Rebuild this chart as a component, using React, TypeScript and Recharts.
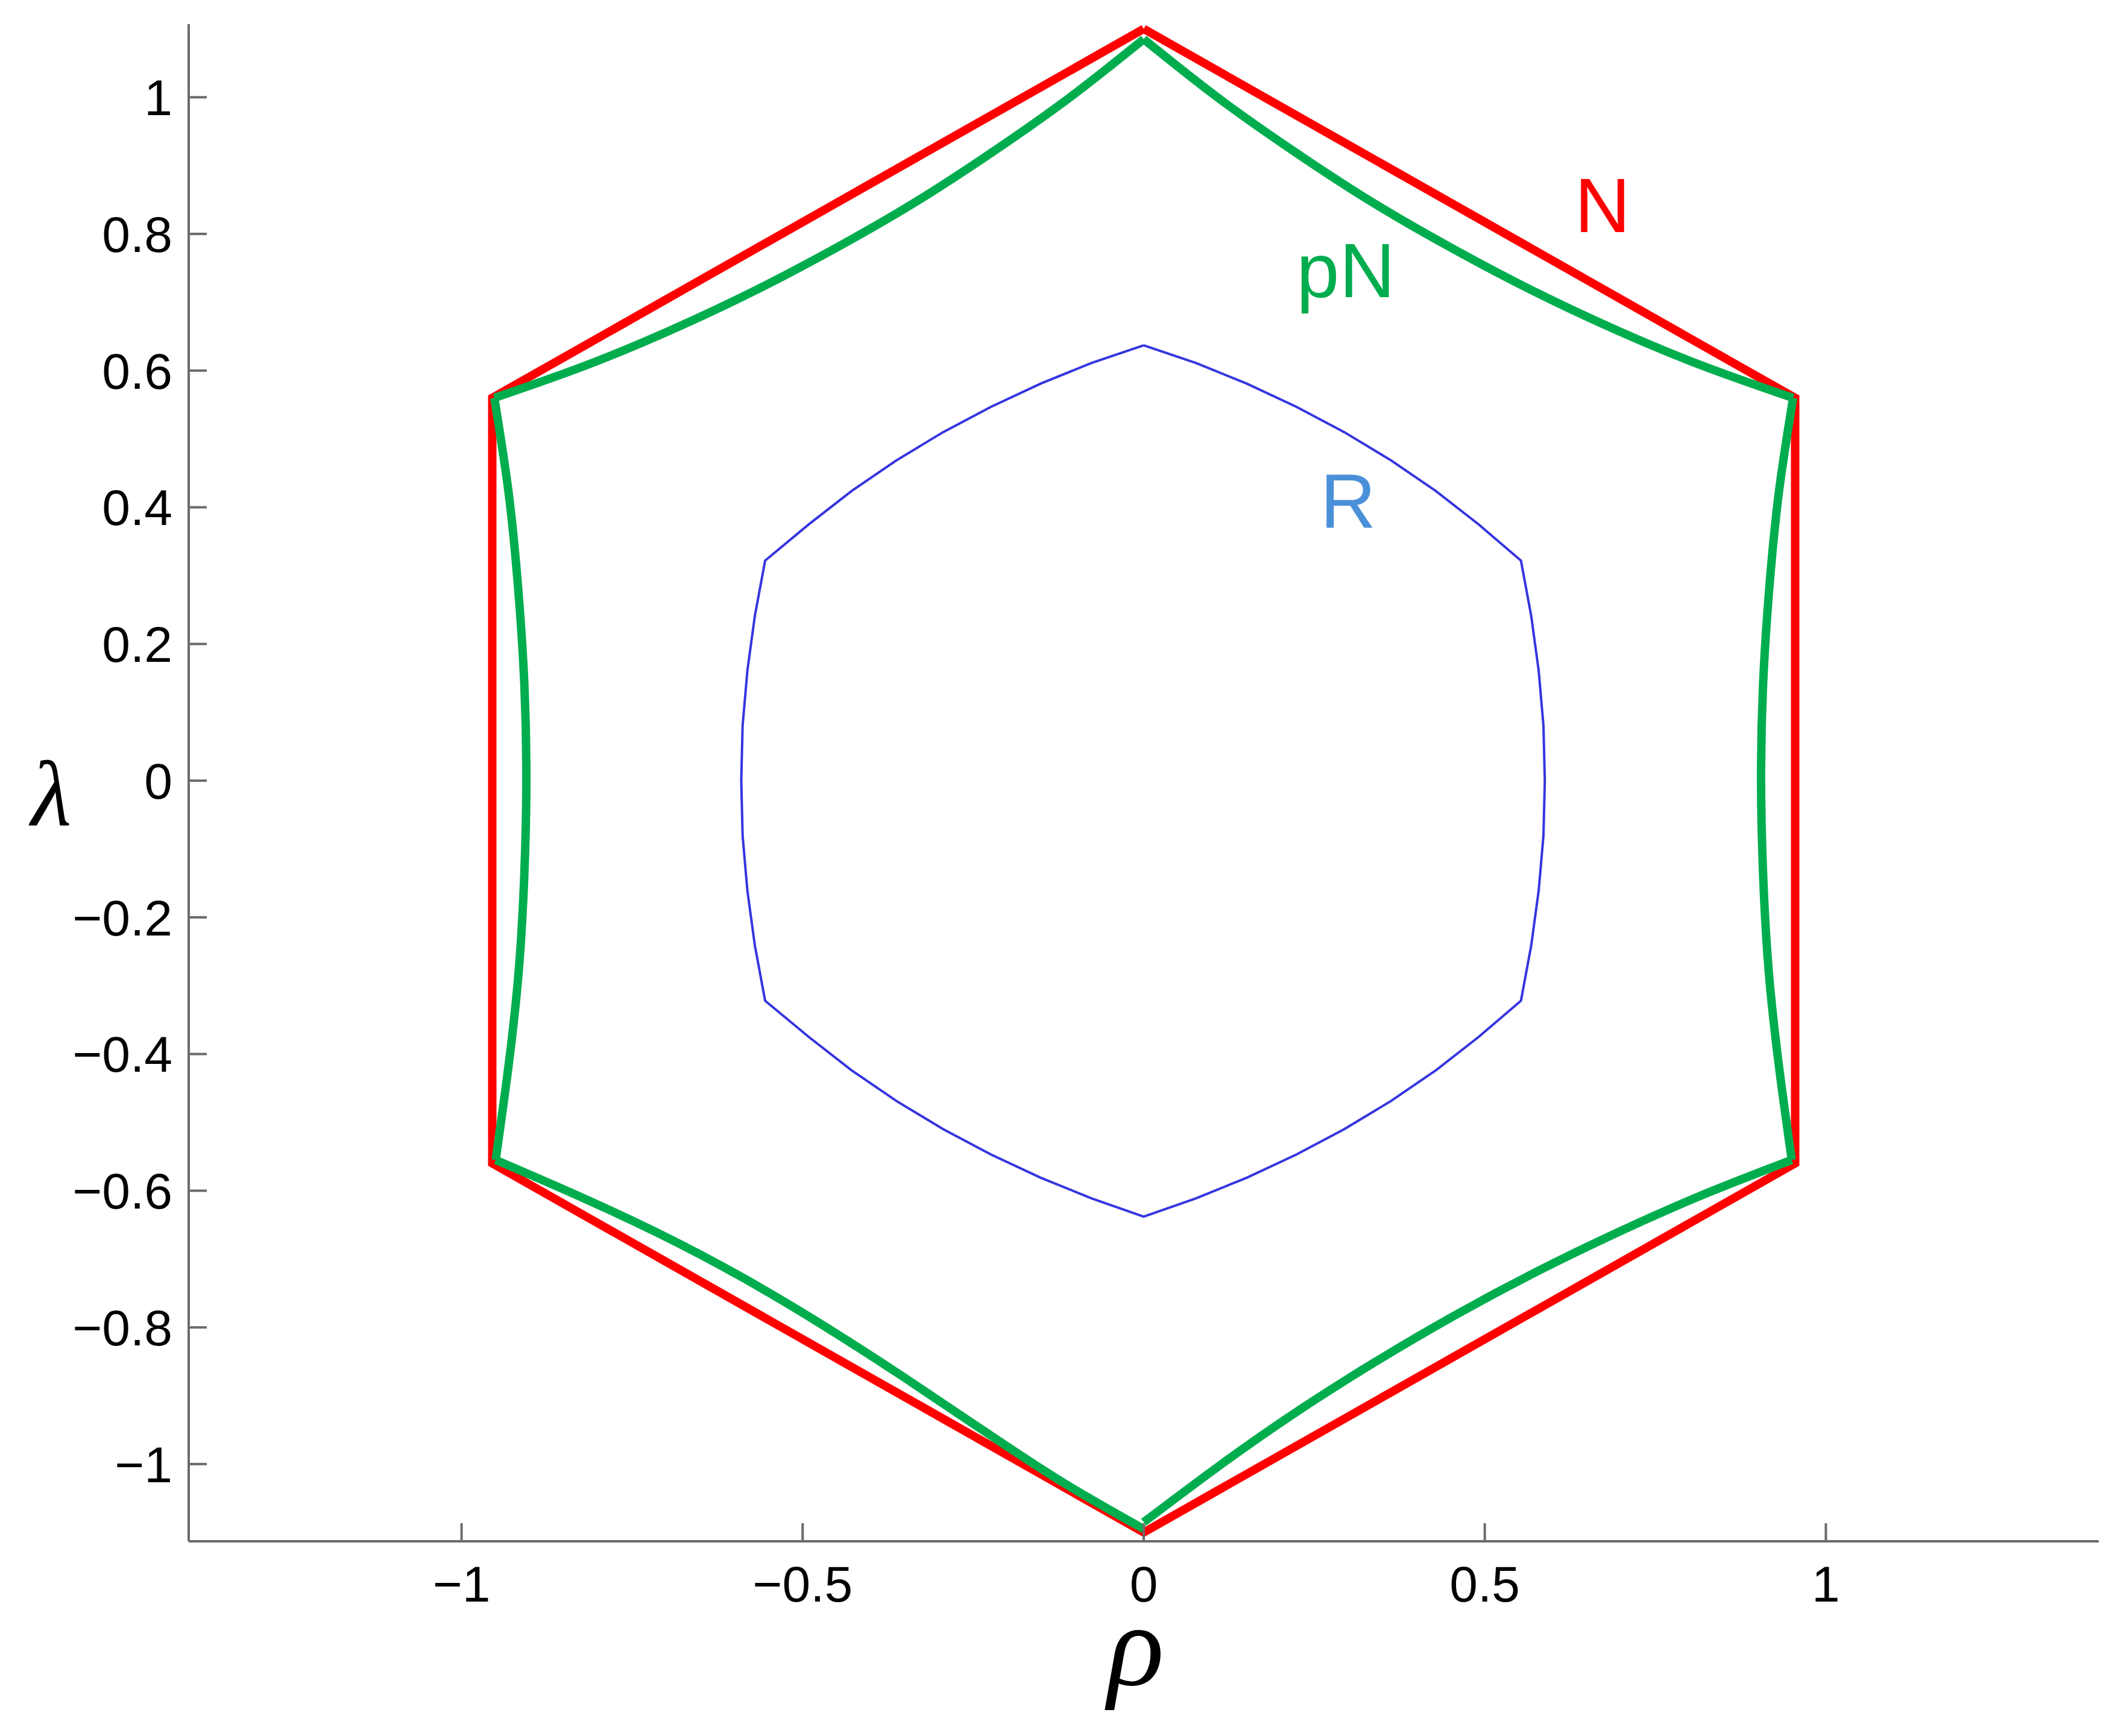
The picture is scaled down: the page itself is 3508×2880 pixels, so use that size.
import React from 'react';
import { LineChart, Line, XAxis, YAxis } from 'recharts';

// N: straight hexagon (red)
const nPoints: [number, number][] = [
  [0, 1.1], [0.955, 0.56], [0.955, -0.56], [0, -1.1], [-0.955, -0.56], [-0.955, 0.56], [0, 1.1],
];

// pN: concave hexagon (green), one array per edge
const pnUpperRight: [number, number][] = [
  [0, 1.085], [0.108, 1.0], [0.22, 0.921], [0.334, 0.847], [0.452, 0.779],
  [0.572, 0.716], [0.696, 0.658], [0.822, 0.606], [0.952, 0.56],
];
const pnRight: [number, number][] = [
  [0.952, 0.56], [0.931, 0.421], [0.917, 0.281], [0.908, 0.142], [0.905, 0.0],
  [0.908, -0.137], [0.916, -0.276], [0.931, -0.416], [0.95, -0.555],
];
const pnLowerRight: [number, number][] = [
  [0.95, -0.555], [0.822, -0.605], [0.697, -0.66], [0.575, -0.719], [0.455, -0.783],
  [0.337, -0.852], [0.222, -0.925], [0.11, -1.003], [0, -1.085],
];
const pnLowerLeft: [number, number][] = [
  [0, -1.095], [-0.115, -1.029], [-0.232, -0.953], [-0.35, -0.874], [-0.47, -0.797],
  [-0.59, -0.726], [-0.71, -0.663], [-0.83, -0.607], [-0.95, -0.555],
];
const pnLeft: [number, number][] = [
  [-0.95, -0.555], [-0.931, -0.416], [-0.916, -0.276], [-0.908, -0.137], [-0.905, 0.0],
  [-0.908, 0.142], [-0.917, 0.281], [-0.931, 0.421], [-0.952, 0.56],
];
const pnUpperLeft: [number, number][] = [
  [-0.952, 0.56], [-0.822, 0.606], [-0.696, 0.658], [-0.572, 0.716], [-0.452, 0.779],
  [-0.334, 0.847], [-0.22, 0.921], [-0.108, 1.0], [0, 1.085],
];

// R: convex inner hexagon (blue)
const rPoints: [number, number][] = [
  [0, 0.637], [0.077, 0.611], [0.151, 0.581], [0.224, 0.547], [0.294, 0.51],
  [0.362, 0.469], [0.428, 0.424], [0.491, 0.375], [0.553, 0.322],
  [0.568, 0.2415], [0.579, 0.161], [0.586, 0.0805], [0.588, 0], [0.586, -0.0805],
  [0.579, -0.161], [0.568, -0.2415], [0.553, -0.322],
  [0.491, -0.375], [0.428, -0.424], [0.362, -0.469], [0.294, -0.51], [0.224, -0.547],
  [0.151, -0.581], [0.077, -0.611], [0, -0.638],
  [-0.077, -0.611], [-0.151, -0.581], [-0.224, -0.547], [-0.294, -0.51], [-0.362, -0.469],
  [-0.428, -0.424], [-0.491, -0.375], [-0.555, -0.322],
  [-0.57, -0.2415], [-0.581, -0.161], [-0.588, -0.0805], [-0.59, 0], [-0.588, 0.0805],
  [-0.581, 0.161], [-0.57, 0.2415], [-0.555, 0.322],
  [-0.491, 0.375], [-0.428, 0.424], [-0.362, 0.469], [-0.294, 0.51], [-0.224, 0.547],
  [-0.151, 0.581], [-0.077, 0.611], [0, 0.637],
];

const xTicks = [-1, -0.5, 0, 0.5, 1];
const yTicks = [-1, -0.8, -0.6, -0.4, -0.2, 0, 0.2, 0.4, 0.6, 0.8, 1];
const xDomain: [number, number] = [-1.4, 1.4];
const yDomain: [number, number] = [-1.113, 1.107];

const toData = (pts: [number, number][]) => pts.map(([x, y]) => ({ x, y }));
const pnEdges = [pnUpperRight, pnRight, pnLowerRight, pnLowerLeft, pnLeft, pnUpperLeft];

const fmt = (v: number) => (v < 0 ? '\u2212' + String(Math.abs(v)) : String(v));

const AXIS = '#6b6b6b';
const GREEN = '#00ad4e';
const tickStyle = { fill: '#000', fontSize: 84, fontFamily: '"Liberation Sans", Arial, sans-serif' };
const sans = '"Liberation Sans", Arial, sans-serif';
const serif = '"Liberation Serif", "Times New Roman", serif';

export default function App() {
  return (
    <div style={{ position: 'absolute', left: 0, top: 0, width: 3508, height: 2880, background: '#fff' }}>
      <LineChart
        width={3508}
        height={2880}
        margin={{ top: 40, right: 27, left: 113, bottom: 173 }}
      >
        <XAxis
          type="number"
          dataKey="x"
          domain={xDomain}
          ticks={xTicks}
          interval={0}
          allowDataOverflow
          height={150}
          tickFormatter={fmt}
          tick={tickStyle}
          tickSize={-30}
          tickMargin={70}
          axisLine={{ stroke: AXIS, strokeWidth: 4 }}
          tickLine={{ stroke: AXIS, strokeWidth: 4 }}
        />
        <YAxis
          type="number"
          dataKey="y"
          domain={yDomain}
          ticks={yTicks}
          interval={0}
          allowDataOverflow
          width={200}
          tickFormatter={fmt}
          tick={tickStyle}
          tickSize={-30}
          tickMargin={57}
          axisLine={{ stroke: AXIS, strokeWidth: 4 }}
          tickLine={{ stroke: AXIS, strokeWidth: 4 }}
        />
        <Line
          data={toData(nPoints)}
          dataKey="y"
          type="linear"
          stroke="#ff0000"
          strokeWidth={14}
          strokeLinejoin="miter"
          dot={false}
          activeDot={false}
          isAnimationActive={false}
        />
        {pnEdges.map((edge, i) => (
          <Line
            key={'pn' + i}
            data={toData(edge)}
            dataKey="y"
            type="natural"
            stroke={GREEN}
            strokeWidth={14}
            dot={false}
            activeDot={false}
            isAnimationActive={false}
          />
        ))}
        <Line
          data={toData(rPoints)}
          dataKey="y"
          type="linear"
          stroke="#3535e0"
          strokeWidth={4}
          dot={false}
          activeDot={false}
          isAnimationActive={false}
        />
      </LineChart>
      <svg
        width={3508}
        height={2880}
        style={{ position: 'absolute', left: 0, top: 0, pointerEvents: 'none' }}
      >
        <text x={2658} y={385} textAnchor="middle" fill="#ff0000" fontSize={128} fontFamily={sans}>N</text>
        <text x={2232} y={493} textAnchor="middle" fill={GREEN} fontSize={128} fontFamily={sans}>pN</text>
        <text x={2236} y={876} textAnchor="middle" fill="#4a90d9" fontSize={128} fontFamily={sans}>R</text>
        <text x={85} y={1369} textAnchor="middle" fill="#000" fontSize={155} fontStyle="italic" fontFamily={serif}>λ</text>
      </svg>
      <div
        style={{
          position: 'absolute',
          left: 1784,
          top: 2674,
          width: 200,
          height: 110,
          lineHeight: '110px',
          textAlign: 'center',
          fontSize: 195,
          fontStyle: 'italic',
          fontFamily: serif,
          color: '#000',
          overflow: 'visible',
        }}
      >
        ρ
      </div>
    </div>
  );
}
